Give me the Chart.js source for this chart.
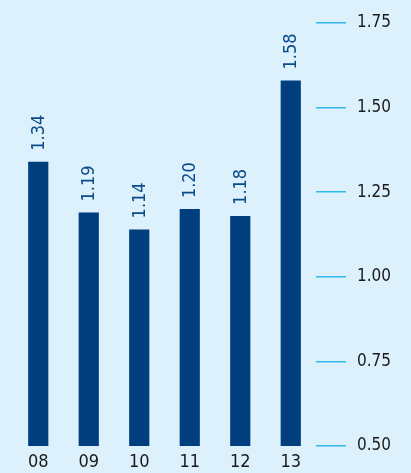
<!DOCTYPE html>
<html>
<head>
<meta charset="utf-8">
<script src="https://cdn.jsdelivr.net/npm/chart.js@4.4.1/dist/chart.umd.min.js"></script>
<style>
    html, body { margin: 0; padding: 0; background: #dcf1fc; }
    #wrap { width: 411px; height: 473px; }
</style>
</head>
<body>
<div id="wrap"><canvas id="grafik"></canvas></div>
<script>
const yillar = ["08", "09", "10", "11", "12", "13"];
const degerler = [1.34, 1.19, 1.14, 1.20, 1.18, 1.58];
const eksenEtiketleri = [0.50, 0.75, 1.00, 1.25, 1.50, 1.75];

const yazi = '"DejaVu Sans Condensed", "Liberation Sans Narrow", Roboto, sans-serif';

// degerleri cubuklarin ustune dik yaz
const degerYazisi = {
    id: "degerYazisi",
    afterDatasetsDraw(chart) {
        const ctx = chart.ctx;
        const meta = chart.getDatasetMeta(0);
        ctx.save();
        ctx.fillStyle = "#0b4a8b";
        ctx.font = "18px " + yazi;
        ctx.textAlign = "left";
        ctx.textBaseline = "middle";
        meta.data.forEach((bar, i) => {
            ctx.save();
            ctx.translate(bar.x + 1, bar.y - 11);
            ctx.rotate(-Math.PI / 2);
            ctx.fillText(degerler[i].toFixed(2), 0, 0);
            ctx.restore();
        });
        ctx.restore();
    }
};

new Chart(document.getElementById("grafik"), {
    type: "bar",
    data: {
        labels: yillar,
        datasets: [{
            data: degerler,
            backgroundColor: "#003e7e",
            barPercentage: 0.4,
            categoryPercentage: 1
        }]
    },
    options: {
        responsive: true,
        maintainAspectRatio: false,
        animation: false,
        layout: { padding: { left: 13, top: 23, right: 0, bottom: 0 } },
        plugins: { legend: { display: false }, tooltip: { enabled: false } },
        scales: {
            x: {
                grid: { display: false, drawTicks: false },
                border: { display: false },
                ticks: { color: "#1a1a1a", font: { family: yazi, size: 18 }, padding: 6 },
                afterFit: s => { s.height = 27; }
            },
            y: {
                position: "right",
                min: 0.5,
                max: 1.75,
                afterBuildTicks: s => { s.ticks = eksenEtiketleri.map(v => ({ value: v })); },
                grid: { drawOnChartArea: false, color: "#2fbbf0", tickLength: 30, lineWidth: 1.5 },
                border: { display: false },
                ticks: {
                    color: "#1a1a1a",
                    font: { family: yazi, size: 17 },
                    padding: 11,
                    callback: v => Number(v).toFixed(2)
                },
                afterFit: s => { s.width = 95; }
            }
        }
    },
    plugins: [degerYazisi]
});
</script>
</body>
</html>
